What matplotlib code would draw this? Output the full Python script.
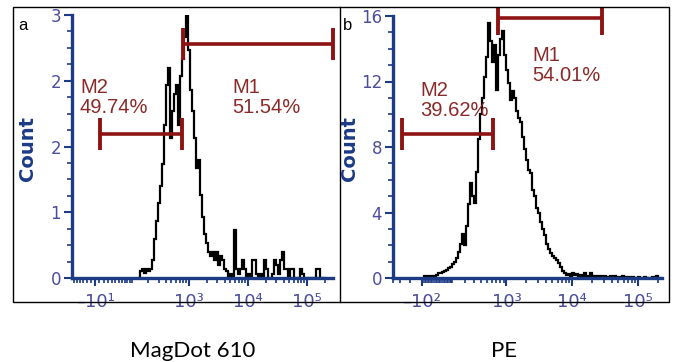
import numpy as np
import matplotlib
matplotlib.use("Agg")
import matplotlib.pyplot as plt
from matplotlib.lines import Line2D
from matplotlib.patches import Rectangle

# ---------------- data ----------------
# Panel a (MagDot 610): event counts per channel, bins evenly spaced on the biexponential axis
a_counts = [0, 0.08, 0.1, 0.06, 0.1, 0.08, 0.1, 0.2, 0.45, 0.65,
            0.85, 1.05, 1.3, 1.75, 2.2, 2.4, 1.6, 1.9, 2.1, 2.2,
            1.75, 2.3, 2.5, 2.75, 3.0, 2.6, 2.15, 1.9, 1.6, 1.25,
            1.35, 0.95, 0.7, 0.5, 0.4, 0.3, 0.25, 0.3, 0.2, 0.3,
            0.15, 0.25, 0.2, 0.1, 0.08, 0.0, 0.05, 0.0, 0.55, 0.1,
            0.05, 0.1, 0.2, 0.1, 0.0, 0.05, 0.0, 0.2, 0.2, 0.05,
            0.0, 0.05, 0.0, 0.2, 0.1, 0.0, 0.0, 0.05, 0.2, 0.15,
            0.05, 0.2, 0.3, 0.1, 0.1, 0.0, 0.1, 0.1, 0.0, 0.0,
            0.0, 0.1, 0.05, 0.0, 0.0, 0.0, 0.0, 0.0, 0.0, 0.1,
            0.1, 0.0, 0.0, 0.0]
a_bin_range = (130, 2.09e5)
a_width = 60
a_xlim = (-77, 2.75e5)
a_ylim = (0, 3)
a_xticks = [-10, 1e3, 1e4, 1e5]
a_xticklabels = ["\u201310\u00b9", "10\u00b3", "10\u2074", "10\u2075"]
a_yticks = [0, 0.75, 1.5, 2.25, 3]
a_yticklabels = ["0", "1", "2", "2", "3"]
a_gate_names = ["M1", "M2"]
a_gate_ranges = [(770, 2.75e5), (2, 760)]
a_gate_pcts = ["51.54%", "49.74%"]

# Panel b (PE)
b_counts = [0.1, 0.15, 0.05, 0.1, 0.0, 0.1, 0.2, 0.3, 0.3, 0.35,
            0.45, 0.5, 0.6, 0.7, 0.85, 1.0, 1.2, 1.6, 2.1, 2.7,
            2.0, 3.2, 4.5, 5.8, 5.0, 4.6, 6.5, 8.5, 10.0, 11.0,
            12.3, 13.5, 15.6, 14.5, 13.2, 14.2, 11.5, 13.6, 14.6, 15.1,
            13.6, 12.7, 11.9, 10.9, 11.4, 11.0, 10.2, 9.8, 9.5, 8.6,
            7.9, 7.2, 6.6, 6.4, 5.4, 5.0, 4.3, 4.0, 3.4, 3.0,
            2.6, 2.1, 1.8, 1.5, 1.35, 1.2, 1.1, 0.9, 0.7, 0.45,
            0.3, 0.2, 0.25, 0.15, 0.3, 0.2, 0.25, 0.1, 0.2, 0.15,
            0.3, 0.15, 0.1, 0.3, 0.1, 0.15, 0.05, 0.1, 0.15, 0.05,
            0.1, 0.0, 0.05, 0.1, 0.05, 0.1, 0.05, 0.0, 0.05, 0.1,
            0.05, 0.0, 0.05, 0.0, 0.05, 0.0, 0.0, 0.05, 0.0, 0.0,
            0.05, 0.0, 0.0, 0.0, 0.05, 0.0, 0.1, 0.0, 0.0]
b_bin_range = (-86.5, 2.286e5)
b_width = 180
b_xlim = (-402, 2.29e5)
b_ylim = (0, 16)
b_xticks = [-100, 1e3, 1e4, 1e5]
b_xticklabels = ["\u201310\u00b2", "10\u00b3", "10\u2074", "10\u2075"]
b_yticks = [0, 4, 8, 12, 16]
b_yticklabels = ["0", "4", "8", "12", "16"]
b_gate_names = ["M1", "M2"]
b_gate_ranges = [(738, 28100), (-282, 615)]
b_gate_pcts = ["54.01%", "39.62%"]

panel_letters = ["a", "b"]
x_titles = ["MagDot 610", "PE"]
y_title = "Count"

# ---------------- style ----------------
W, H = 673, 362
AXIS_C = "#1c3a86"
TICKLAB_C = "#4d4d9e"
GATE_C = "#8e1414"
GTEXT_C = "#8a2a28"

fig = plt.figure(figsize=(W / 100, H / 100), dpi=100)
fig.patch.set_facecolor("white")


def fx(px):
    return px / W


def fy(py):
    return 1 - py / H


def make_scale(w):
    ln10 = np.log(10)

    def fwd(x):
        return np.arcsinh(np.asarray(x, dtype=float) / w) / ln10

    def inv(y):
        return w * np.sinh(np.asarray(y, dtype=float) * ln10)

    return fwd, inv


def minor_positions(lo, hi):
    vals = [0.0]
    for e in range(1, 6):
        for k in range(1, 10):
            vals.append(k * 10 ** e)
            vals.append(-k * 10 ** e)
    return sorted(v for v in vals if lo <= v <= hi)


frame = Rectangle((fx(13), fy(302)), fx(669) - fx(13), fy(7) - fy(302),
                  transform=fig.transFigure, fill=False, ec="black", lw=1.0)
fig.add_artist(frame)
fig.add_artist(Line2D([fx(340), fx(340)], [fy(302), fy(7)],
                      transform=fig.transFigure, color="black", lw=1.0))

panels = [
    dict(rect=[fx(72), fy(278), fx(333) - fx(72), fy(15) - fy(278)],
         counts=a_counts, rng=a_bin_range, w=a_width, xlim=a_xlim, ylim=a_ylim,
         xt=a_xticks, xtl=a_xticklabels, yt=a_yticks, ytl=a_yticklabels,
         gn=a_gate_names, gr=a_gate_ranges, gp=a_gate_pcts,
         glev=[2.67, 1.64], cap=0.18, ymin_step=0.1875,
         gtext=[(232, 78), (80, 78)], letter=(23, 25), count_x=27),
    dict(rect=[fx(393), fy(278), fx(662) - fx(393), fy(16) - fy(278)],
         counts=b_counts, rng=b_bin_range, w=b_width, xlim=b_xlim, ylim=b_ylim,
         xt=b_xticks, xtl=b_xticklabels, yt=b_yticks, ytl=b_yticklabels,
         gn=b_gate_names, gr=b_gate_ranges, gp=b_gate_pcts,
         glev=[15.85, 8.8], cap=0.98, ymin_step=1.0,
         gtext=[(532, 46), (420, 81)], letter=(348, 25), count_x=349),
]

for i, p in enumerate(panels):
    ax = fig.add_axes(p["rect"])
    fwd, inv = make_scale(p["w"])
    ax.set_xscale("function", functions=(fwd, inv))
    ax.set_xlim(*p["xlim"])
    ax.set_ylim(*p["ylim"])

    n = len(p["counts"])
    edges = inv(np.linspace(fwd(p["rng"][0]), fwd(p["rng"][1]), n + 1))
    ax.stairs(p["counts"], edges, color="black", lw=1.6, baseline=0, zorder=2)

    for s in ("top", "right"):
        ax.spines[s].set_visible(False)
    for s in ("left", "bottom"):
        ax.spines[s].set_color(AXIS_C)
        ax.spines[s].set_linewidth(2.4)
        ax.spines[s].set_zorder(3)

    ax.set_xticks(p["xt"])
    ax.set_xticklabels(p["xtl"])
    ax.set_xticks(minor_positions(*p["xlim"]), minor=True)
    ax.set_yticks(p["yt"])
    ax.set_yticklabels(p["ytl"])
    ax.set_yticks(np.arange(0, p["ylim"][1] + 1e-9, p["ymin_step"]), minor=True)
    ax.tick_params(which="major", direction="out", length=6, width=1.5,
                   color=AXIS_C, labelcolor=TICKLAB_C, labelsize=12, pad=2)
    ax.tick_params(which="minor", direction="out", length=3.5, width=1.2,
                   color=AXIS_C)
    ax.tick_params(axis="x", which="major", pad=5, labelsize=13)
    for lab in ax.get_xticklabels() + ax.get_yticklabels():
        lab.set_family("DejaVu Sans")

    # gates
    for (x0, x1), lev in zip(p["gr"], p["glev"]):
        ln = ax.plot([x0, x1], [lev, lev], color=GATE_C, lw=2.6,
                     solid_capstyle="butt", clip_on=True, zorder=4)[0]
        ln.set_clip_path(frame)
        for xx in (x0, x1):
            c = ax.plot([xx, xx], [lev - p["cap"], lev + p["cap"]], color=GATE_C,
                        lw=2.8, solid_capstyle="butt", clip_on=True, zorder=4)[0]
            c.set_clip_path(frame)

    for name, pct, (tx, ty) in zip(p["gn"], p["gp"], p["gtext"]):
        fig.text(fx(tx), fy(ty), name + "\n" + pct, ha="left", va="top",
                 color=GTEXT_C, fontsize=14.5, family="Liberation Sans",
                 linespacing=1.05)

    fig.text(fx(p["letter"][0]), fy(p["letter"][1]), panel_letters[i],
             ha="center", va="center", fontsize=12, family="Liberation Sans",
             color="black")
    fig.text(fx(p["count_x"]), fy(148), y_title, rotation=90, ha="center",
             va="center", fontsize=14, fontweight="bold", color=AXIS_C,
             family="DejaVu Sans")

fig.text(fx(193), fy(357), x_titles[0], ha="center", va="baseline",
         fontsize=16, family="Lato", color="black")
fig.text(fx(504), fy(357), x_titles[1], ha="center", va="baseline",
         fontsize=16, family="Lato", color="black")

fig.savefig("out.png", dpi=100, facecolor="white")
